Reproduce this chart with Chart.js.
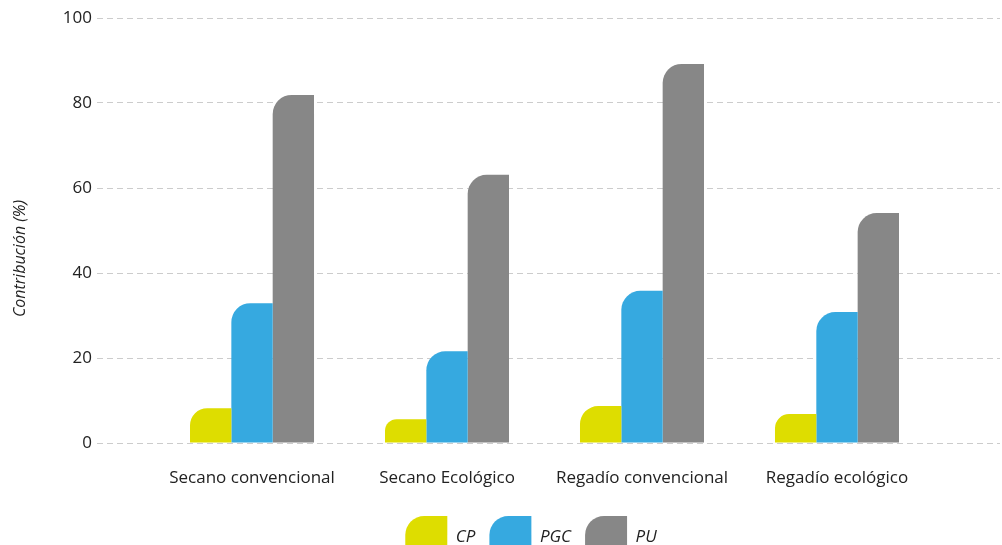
<!DOCTYPE html>
<html>
<head>
<meta charset="utf-8">
<script src="https://cdn.jsdelivr.net/npm/chart.js@4/dist/chart.umd.min.js"></script>
<style>
  html, body { margin: 0; padding: 0; background: #ffffff; overflow: hidden; }
  #wrap { position: relative; width: 1002px; height: 568px; }
</style>
</head>
<body>
<div id="wrap"><canvas id="c"></canvas></div>
<script>
const categories = ['Secano convencional', 'Secano Ecológico', 'Regadío convencional', 'Regadío ecológico'];
const seriesNames = ['CP', 'PGC', 'PU'];
const cpValues = [8.2, 5.6, 8.7, 6.8];
const pgcValues = [32.9, 21.6, 35.8, 30.8];
const puValues = [81.9, 63.1, 89.2, 54.1];
const yTickValues = [0, 20, 40, 60, 80, 100];
const yTitle = 'Contribución (%)';

const colors = ['#dedd00', '#36a9e0', '#878787'];
const radius = { topLeft: 19, topRight: 0, bottomLeft: 0, bottomRight: 0 };
const FONT = '"Open Sans", "Noto Sans", sans-serif';

function toPoints(values) {
  return values.map((v, i) => ({ x: i, y: v }));
}

const allSeries = [cpValues, pgcValues, puValues];

const legendShift = {
  id: 'legendShift',
  afterLayout(chart) {
    if (chart.legend) {
      chart.legend.left += 31;
      chart.legend.right += 31;
    }
  }
};

const axisTitle = {
  id: 'axisTitle',
  afterDraw(chart) {
    const ctx = chart.ctx;
    const area = chart.chartArea;
    ctx.save();
    ctx.translate(20, (area.top + area.bottom) / 2 + 28);
    ctx.rotate(-Math.PI / 2);
    ctx.font = 'italic 16px ' + FONT;
    ctx.fillStyle = '#222222';
    ctx.textAlign = 'center';
    ctx.textBaseline = 'middle';
    ctx.fillText(yTitle, 0, 0);
    ctx.restore();
  }
};

new Chart(document.getElementById('c'), {
  type: 'bar',
  data: {
    datasets: allSeries.map((vals, k) => ({
      label: seriesNames[k],
      data: toPoints(vals),
      backgroundColor: colors[k],
      borderWidth: 0,
      borderRadius: radius,
      borderSkipped: 'start',
      categoryPercentage: 0.636,
      barPercentage: 1.0
    }))
  },
  options: {
    responsive: true,
    maintainAspectRatio: false,
    animation: false,
    layout: { padding: { top: 18, left: 0, right: 2, bottom: 0 } },
    plugins: {
      tooltip: { enabled: false },
      legend: {
        position: 'bottom',
        labels: {
          boxWidth: 42,
          boxHeight: 42,
          padding: 14,
          useBorderRadius: true,
          color: '#222222',
          font: { family: FONT, size: 17, style: 'italic' }
        }
      }
    },
    scales: {
      x: {
        type: 'linear',
        offset: false,
        min: -0.795,
        max: 3.836,
        grid: { display: false, drawTicks: false },
        border: { display: false },
        afterFit(scale) { scale.height = 59; },
        ticks: {
          stepSize: 1,
          includeBounds: false,
          autoSkip: false,
          maxRotation: 0,
          padding: 25,
          color: '#222222',
          font: { family: FONT, size: 17 },
          callback: (v) => (Number.isInteger(v) && categories[v] !== undefined) ? categories[v] : ''
        }
      },
      y: {
        min: 0,
        max: 100,
        afterFit(scale) { scale.width = 97; },
        afterBuildTicks(scale) { scale.ticks = yTickValues.map(v => ({ value: v })); },
        grid: {
          color: '#cccccc',
          lineWidth: 1,
          drawTicks: false
        },
        border: { display: false, dash: [6, 4] },
        ticks: {
          padding: 5,
          color: '#222222',
          font: { family: FONT, size: 17 }
        },
        title: { display: false }
      }
    }
  },
  plugins: [legendShift, axisTitle]
});
</script>
</body>
</html>
